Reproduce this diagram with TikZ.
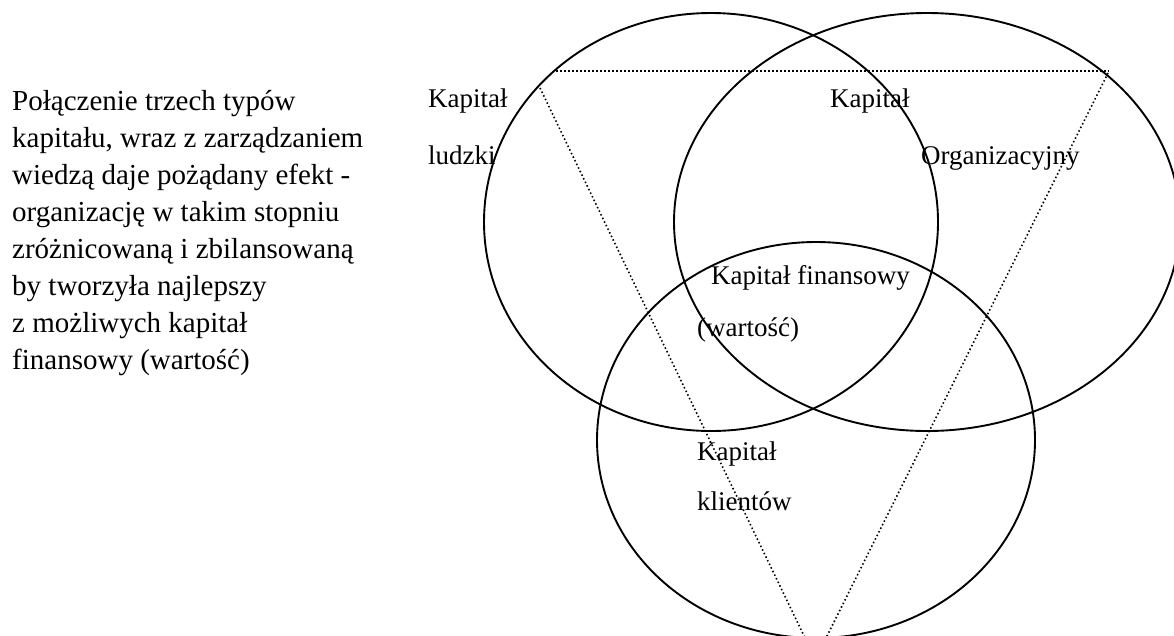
\documentclass[tikz,border=0pt]{standalone}
\usepackage{fontspec}
\setmainfont{Liberation Serif}
\begin{document}
\begin{tikzpicture}[x=1pt,y=-1pt,
  ring/.style={draw=black,line width=1.9pt},
  dotline/.style={draw=black,line width=1.6pt,dash pattern=on 1.5pt off 2.5pt},
  txt/.style={inner sep=0pt,anchor=base west,font=\fontsize{27}{30}\selectfont},
  body/.style={inner sep=0pt,anchor=base west,font=\fontsize{29}{32}\selectfont}]
\useasboundingbox (0,0) rectangle (1174,635);
\clip (0,0) rectangle (1174,635);
% ellipses
\draw[ring] (711,222) ellipse [x radius=227, y radius=209];
\draw[ring] (927,222) ellipse [x radius=253, y radius=209];
\draw[ring] (816,440) ellipse [x radius=219, y radius=198];
% dotted triangle
\coordinate (tl) at (556,71);
\coordinate (tr) at (1109,71);
\coordinate (ls) at (540,88);
\coordinate (lb) at (806,640);
\coordinate (rs) at (1108,73);
\coordinate (rb) at (825,640);
\draw[dotline] (tl) -- (tr);
\draw[dotline] (ls) -- (lb);
\draw[dotline] (rs) -- (rb);
% left text
\node[body] (l1) at (12,110) {Połączenie trzech typów};
\node[body] (l2) at (12,147) {kapitału, wraz z zarządzaniem};
\node[body] (l3) at (12,184) {wiedzą daje pożądany efekt -};
\node[body] (l4) at (12,221) {organizację w takim stopniu};
\node[body] (l5) at (12,258) {zróżnicowaną i zbilansowaną};
\node[body] (l6) at (12,295) {by tworzyła najlepszy};
\node[body] (l7) at (12,332) {z możliwych kapitał};
\node[body] (l8) at (12,369) {finansowy (wartość)};
% labels
\node[txt] (hk1) at (428,107) {Kapitał};
\node[txt] (hk2) at (428,164) {ludzki};
\node[txt] (ok1) at (830,107) {Kapitał};
\node[txt] (ok2) at (921,164) {Organizacyjny};
\node[txt] (fk1) at (711,284) {Kapitał finansowy};
\node[txt] (fk2) at (697,336) {(wartość)};
\node[txt] (kk1) at (697,460) {Kapitał};
\node[txt] (kk2) at (697,510) {klientów};
\end{tikzpicture}
\end{document}
